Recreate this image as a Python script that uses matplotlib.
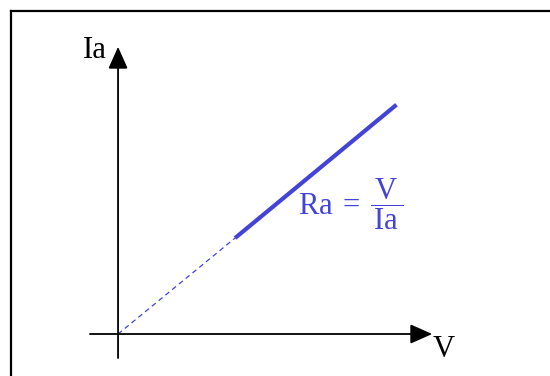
import matplotlib
matplotlib.use("Agg")
import matplotlib.pyplot as plt

plt.rcParams['font.family'] = ['Liberation Serif', 'DejaVu Serif']
plt.rcParams['mathtext.fontset'] = 'custom'
plt.rcParams['mathtext.rm'] = 'Liberation Serif'
plt.rcParams['mathtext.it'] = 'Liberation Serif:italic'

# characteristic line (V on x, Ia on y)
v_dashed = [0.0, 1.0]
ia_dashed = [0.0, 0.82]
v_solid = [1.0, 2.38]
ia_solid = [0.82, 1.96]

# axis extents
v_axis = [-0.24, 2.685]
ia_axis = [-0.205, 2.455]

blue = '#4343d8'

fig = plt.figure(figsize=(5.5, 3.76), dpi=100)
ax = fig.add_axes([11 / 550, 0, 539 / 550, 365 / 376])
ax.set_xlim(-0.915, 3.692)
ax.set_ylim(-0.359, 2.761)
ax.set_xticks([])
ax.set_yticks([])
for side in ['right', 'bottom']:
    ax.spines[side].set_visible(False)
for side in ['left', 'top']:
    ax.spines[side].set_linewidth(1.6)
    ax.spines[side].set_color('black')

# axes with arrow heads
arrow = dict(arrowstyle='-|>,head_length=13.5,head_width=6', mutation_scale=1,
             lw=1.3, color='black', shrinkA=0, shrinkB=0)
ax.annotate('', xy=(v_axis[1], 0), xytext=(v_axis[0], 0), arrowprops=arrow)
ax.annotate('', xy=(0, ia_axis[1]), xytext=(0, ia_axis[0]), arrowprops=arrow)

ax.plot(v_dashed, ia_dashed, color=blue, lw=0.9, dashes=(4, 3))
ax.plot(v_solid, ia_solid, color=blue, lw=3.0, solid_capstyle='butt')

ax.text(-0.30, 2.36, 'Ia', fontsize=22, ha='left', va='baseline')
ax.text(2.685, -0.197, 'V', fontsize=22, ha='left', va='baseline')
ax.text(1.538, 1.111,
        r'$\mathrm{Ra}\;=\;\dfrac{\,\mathrm{V}\,}{\,\mathrm{Ia}\,}$',
        fontsize=22, color=blue, ha='left', va='center')

fig.savefig('out.png', dpi=100)
